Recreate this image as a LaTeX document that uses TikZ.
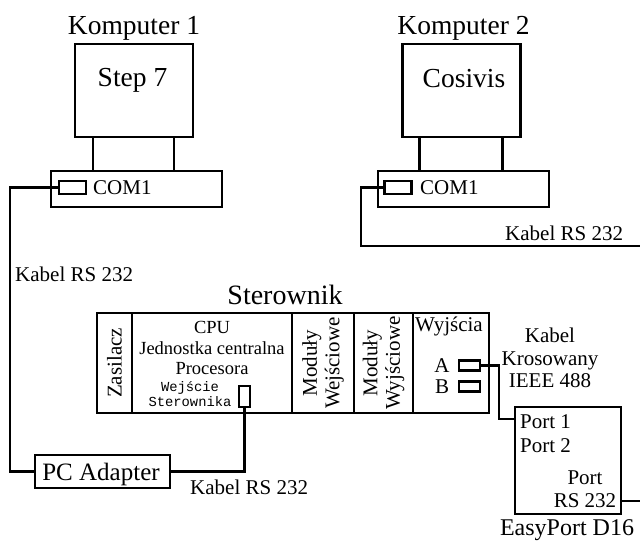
\documentclass[tikz,border=0pt]{standalone}
\usepackage{fontspec}
\setmainfont{Liberation Serif}
\setmonofont{Liberation Mono}
\usetikzlibrary{positioning, calc}
\tikzset{
	box/.style={draw=black, line width=2.6pt, rectangle, inner sep=0pt, outer sep=0pt},
	monitor/.style={box, minimum width=118pt, minimum height=93pt},
	pcBase/.style={box, minimum width=171pt, minimum height=36pt},
	comPort/.style={box, line width=2.2pt, minimum width=27pt, minimum height=13pt},
	slot/.style={box, minimum height=100pt},
	cable/.style={line width=2.2pt},
	txt/.style={inner sep=0pt},
	bigText/.style={txt, font=\fontsize{27.5}{30}\selectfont},
	midText/.style={txt, font=\fontsize{21}{22.5}\selectfont}
}

\begin{document}
\begin{tikzpicture}[x=1pt, y=-1pt]
\useasboundingbox (0,0) rectangle (640,545);
% komputery
\node [monitor] (mon1) at (134,90.5) {};
\node [pcBase] (base1) at (136.5,189) {};
\node [comPort] (port1) at (72.5,187.5) {};
\node [monitor] (mon2) at (461.5,90.5) {};
\node [pcBase] (base2) at (463.5,189) {};
\node [comPort] (port2) at (398,187.5) {};
\coordinate (leg1a) at ($(mon1.south west)+(18,0)$);
\coordinate (leg1b) at ($(mon1.south east)+(-19,0)$);
\coordinate (leg2a) at ($(mon2.south west)+(17,0)$);
\coordinate (leg2b) at ($(mon2.south east)+(-18,0)$);
\draw [box] (leg1a) -- (leg1a |- base1.north);
\draw [box] (leg1b) -- (leg1b |- base1.north);
\draw [box] (leg2a) -- (leg2a |- base2.north);
\draw [box] (leg2b) -- (leg2b |- base2.north);
\node [bigText, anchor=base] (k1Txt) at (134,35) {Komputer 1};
\node [bigText, anchor=base] (step) at (132.5,87) {Step 7};
\node [bigText, anchor=base] (k2Txt) at (463.5,35) {Komputer 2};
\node [bigText, anchor=base] (cosivis) at (464,88) {Cosivis};
\node [midText, anchor=base west] (com1Txt) at (93,195) {COM1};
\node [midText, anchor=base west] (com2Txt) at (420,195) {COM1};

% sterownik
\node [slot, minimum width=35pt] (zas) at (114.5,363) {};
\node [slot, minimum width=160pt, right=0pt of zas] (cpu) {};
\node [slot, minimum width=62pt, right=0pt of cpu] (mwe) {};
\node [slot, minimum width=59pt, right=0pt of mwe] (mwy) {};
\node [slot, minimum width=76pt, right=0pt of mwy] (wyj) {};
\node [txt, font=\fontsize{28}{30}\selectfont, anchor=base] (sterTxt) at (285,305) {Sterownik};
\node [midText, rotate=90] (zasTxt) at (zas) {Zasilacz};
\node [txt, font=\fontsize{18.5}{20.5}\selectfont, align=center] (cpuTxt) at (212,348) {CPU\\Jednostka centralna\\Procesora};
\node [txt, font=\ttfamily\fontsize{13.8}{15}\selectfont, align=center] (wejTxt) at (190,394.5) {Wejście\\Sterownika};
\node [box, line width=2.2pt, minimum width=11pt, minimum height=21pt] (cpuPort) at (244.5,396.5) {};
\node [midText, rotate=90, align=center] (mweTxt) at (mwe) {Moduły\\Wejściowe};
\node [midText, rotate=90, align=center] (mwyTxt) at (mwy) {Moduły\\Wyjściowe};
\node [midText, anchor=base] (wyjTxt) at (449,332) {Wyjścia};
\node [midText, anchor=base] (aTxt) at (442,372) {A};
\node [midText, anchor=base] (bTxt) at (442,393) {B};
\node [box, line width=2.2pt, minimum width=21pt, minimum height=10pt] (outA) at (469.5,365.5) {};
\node [box, line width=2.2pt, minimum width=21pt, minimum height=10pt] (outB) at (469.5,386.5) {};

% adapter i easyport
\node [box, minimum width=135pt, minimum height=33pt] (adapter) at (102.5,471.5) {};
\node [txt, font=\fontsize{25}{27}\selectfont, anchor=base] (adaptTxt) at (101,480) {PC Adapter};
\node [box, minimum width=106pt, minimum height=107pt] (easy) at (568,460.5) {};
\node [txt, font=\fontsize{24}{26}\selectfont, anchor=base] (easyTxt) at (567,535) {EasyPort D16};
\node [midText, anchor=base west] (p1Txt) at (520,428) {Port 1};
\node [midText, anchor=base west] (p2Txt) at (520,452) {Port 2};
\node [midText, align=center] (rsTxt) at (585,489) {Port\\RS 232};

% kable
\coordinate (lBend) at (10,300);
\coordinate (rBend) at (361,246);
\coordinate (rOut) at (640,246);
\coordinate (kA) at (499,419);
\coordinate (rsOut) at (640,501);
\draw [cable] (port1.west) -| (lBend) |- (adapter.west);
\draw [cable] (cpuPort.south) |- (adapter.east);
\draw [cable] (port2.west) -| (rBend) -- (rOut);
\draw [cable] (outA.east) -| (kA) -- (kA -| easy.west);
\draw [cable] (rsOut -| easy.east) -- (rsOut);
\node [midText, anchor=base west] (kab1) at (15,282) {Kabel RS 232};
\node [midText, anchor=base west] (kab2) at (505,241) {Kabel RS 232};
\node [midText, anchor=base west] (kab3) at (190,494) {Kabel RS 232};
\node [midText, align=center] (kab4) at (550,358) {Kabel\\Krosowany\\IEEE 488};
\end{tikzpicture}
\end{document}
